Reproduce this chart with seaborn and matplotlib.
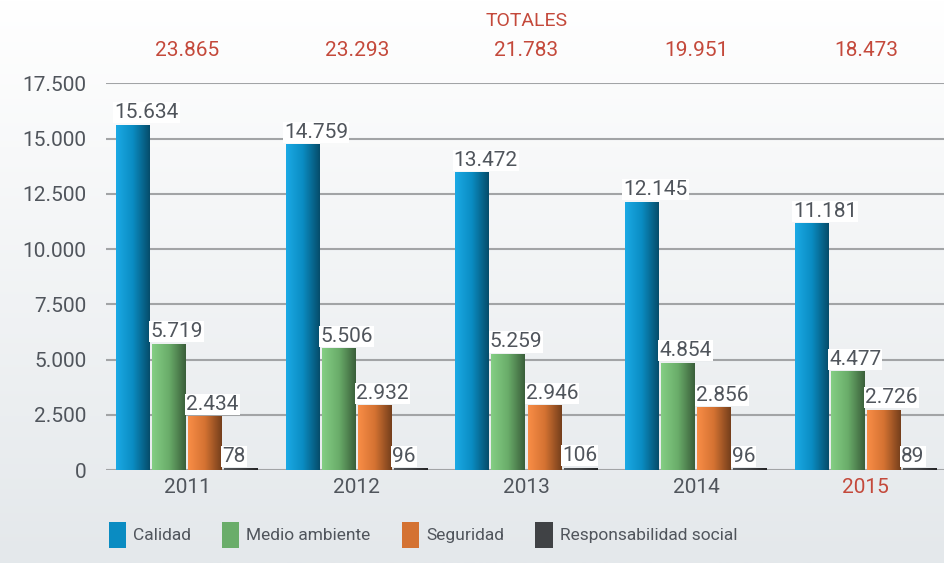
import numpy as np
import pandas as pd
import matplotlib
matplotlib.use("Agg")
import matplotlib.pyplot as plt
import seaborn as sns
from matplotlib.colors import LinearSegmentedColormap, to_rgb
from matplotlib.patches import Patch

# Data
years = ["2011", "2012", "2013", "2014", "2015"]
calidad = [15634, 14759, 13472, 12145, 11181]
medio_ambiente = [5719, 5506, 5259, 4854, 4477]
seguridad = [2434, 2932, 2946, 2856, 2726]
resp_social = [78, 96, 106, 96, 89]
totales = [23865, 23293, 21783, 19951, 18473]
series_names = ["Calidad", "Medio ambiente", "Seguridad", "Responsabilidad social"]

colors = ["#0a8cc2", "#6aad6a", "#d47232", "#404245"]
red = "#c4493b"
txt = "#50555c"

rows = []
for name, vals in zip(series_names, [calidad, medio_ambiente, seguridad, resp_social]):
    for y, v in zip(years, vals):
        rows.append({"year": y, "serie": name, "value": v})
df = pd.DataFrame(rows)

sns.set_style("white")
plt.rcParams["font.family"] = ["Roboto", "DejaVu Sans"]


def fmt(v):
    return f"{int(v):,}".replace(",", ".")


fig = plt.figure(figsize=(9.44, 5.63), dpi=100)

# background gradient (white at top, pale grey-blue at bottom)
bg = fig.add_axes([0, 0, 1, 1], zorder=-10)
grad = np.linspace(0, 1, 256).reshape(-1, 1)
bg_cmap = LinearSegmentedColormap.from_list("bg", ["#ffffff", "#e4e8eb"])
bg.imshow(grad, cmap=bg_cmap, aspect="auto", extent=[0, 1, 0, 1])
bg.axis("off")

ax = fig.add_axes([0.1123, 0.165, 0.8877, 0.688])
ax.patch.set_alpha(0)

sns.barplot(data=df, x="year", y="value", hue="serie", hue_order=series_names,
            palette=colors, width=0.85, gap=0.06, ax=ax, legend=False,
            linewidth=0, zorder=3)

ax.set_xlim(-0.477, 4.46)
ax.set_ylim(0, 17530)
ax.set_yticks(np.arange(0, 17501, 2500))
ax.set_yticklabels([fmt(t) for t in np.arange(0, 17501, 2500)], fontsize=15, color=txt)
ax.yaxis.grid(True, color="#a2a4a6", lw=1.5, zorder=0)
ax.tick_params(axis="y", length=0, pad=14)
ax.tick_params(axis="x", length=0, pad=6)
ax.set_xticks(range(len(years)))
ax.set_xticklabels(years, fontsize=15, color=txt)
ax.get_xticklabels()[-1].set_color(red)
ax.set_xlabel("")
ax.set_ylabel("")
for s in ax.spines.values():
    s.set_visible(False)

# gradient fill on bars + value labels
for cont, col in zip(ax.containers, colors):
    base = np.array(to_rgb(col))
    cmap = LinearSegmentedColormap.from_list(
        "b", [np.clip(base * 1.1 + 0.06, 0, 1), base, base * 0.55])
    for bar in cont:
        x0, w, h = bar.get_x(), bar.get_width(), bar.get_height()
        g = np.linspace(0, 1, 64).reshape(1, -1)
        im = ax.imshow(g, cmap=cmap, aspect="auto", extent=[x0, x0 + w, 0, h],
                       zorder=4)
        im.set_clip_path(bar)
        ax.text(x0 - 0.01, h + 110, fmt(h), ha="left", va="bottom",
                fontsize=15, color=txt, zorder=6,
                bbox=dict(boxstyle="square,pad=0.05", fc="white", ec="none"))

ax.set_xlim(-0.477, 4.46)
ax.set_ylim(0, 17530)

# totals row above the plot
fig.text(527 / 944, 1 - 21 / 563, "TOTALES", color=red, fontsize=14,
         ha="center", va="center")
for i, t in enumerate(totales):
    xd = ax.transData.transform((i, 0))[0]
    fig.text(xd / 944, 1 - 50 / 563, fmt(t), color=red, fontsize=15,
             ha="center", va="center")

handles = [Patch(facecolor=c, edgecolor="none") for c in colors]
fig.legend(handles, series_names, loc="center", bbox_to_anchor=(0.448, 0.05),
           ncol=4, frameon=False, fontsize=12.5, labelcolor=txt,
           handlelength=1.0, handleheight=1.9, handletextpad=0.4,
           columnspacing=1.8)

fig.savefig("out.png", dpi=100)
